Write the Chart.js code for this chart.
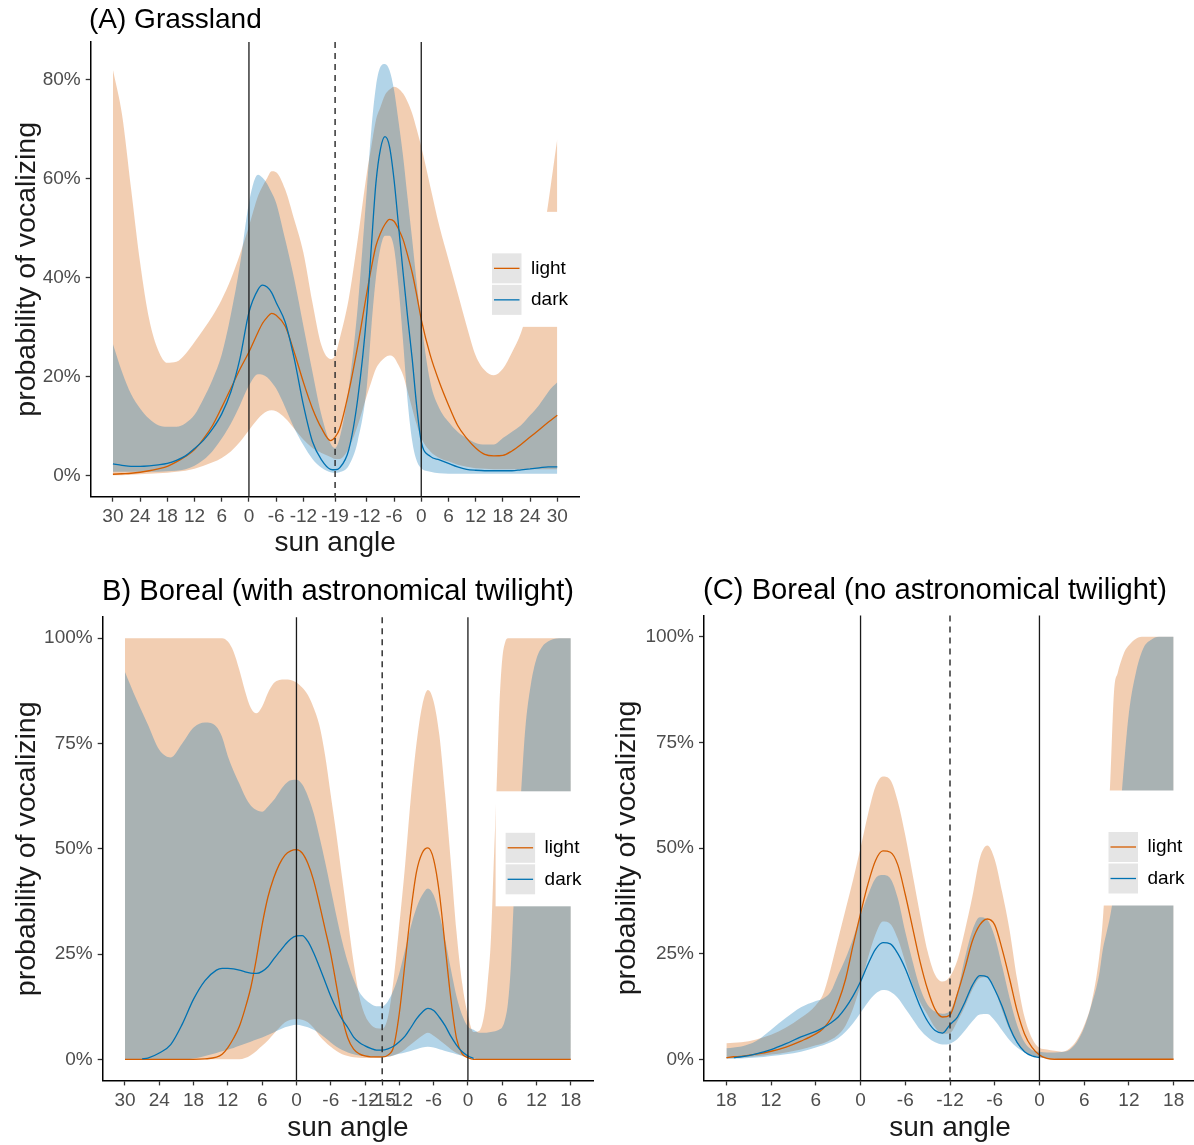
<!DOCTYPE html>
<html>
<head>
<meta charset="utf-8">
<script src="https://cdn.jsdelivr.net/npm/chart.js@4.4.1/dist/chart.umd.min.js"></script>
<style>
  html, body { margin: 0; padding: 0; background: #fff; overflow: hidden; }
  #page { position: relative; width: 1194px; height: 1145px; overflow: hidden;
          font-family: "Liberation Sans", Arial, sans-serif; }
  .panel { position: absolute; }
  .panel-title { position: absolute; color: #000; white-space: nowrap; }
</style>
</head>
<body>
<div id="page">
  <div class="panel" style="left:0;top:0;width:597px;height:566px"><canvas id="grassland"></canvas></div>
  <div class="panel" style="left:0;top:570px;width:597px;height:575px"><canvas id="borealAstro"></canvas></div>
  <div class="panel" style="left:600px;top:570px;width:600px;height:575px"><canvas id="borealNoAstro"></canvas></div>
  <div class="panel-title" style="left:89px;top:5px;font-size:28px;line-height:28px">(A) Grassland</div>
  <div class="panel-title" style="left:102px;top:576.3px;font-size:29.2px;line-height:29.2px">B) Boreal (with astronomical twilight)</div>
  <div class="panel-title" style="left:703px;top:575.3px;font-size:29.2px;line-height:29.2px">(C) Boreal (no astronomical twilight)</div>
</div>
<script>
// x positions run along the sun's path: evening descent, night low point, morning rise
// values are probability of vocalizing, in percent

// ---- (A) Grassland ----
const A_X = [0,2,4,6,8,10,12,14,16,18,20,22,24,26,28,30,32,33,34,35,36,38,40,42,44,46,48,49,50,52,54,56,57,58,59,60,61,62,63,64,65,66,67,68,70,72,74,76,78,80,82,84,86,88,90,92,94,96,97,98];
const A_LIGHT_FIT = [0.3,0.4,0.5,0.7,1.0,1.4,1.9,2.8,3.9,5.3,7.5,10.2,13.8,17.6,21.5,25,29,30.8,32,32.8,32.4,30.2,24.9,18.9,13.6,9.6,7.1,
  7.8,9.5,16.9,26.3,37,42,46.4,49,50.8,51.8,51.4,49.8,47.7,44.5,41,36.5,31.6,
  24.3,18.9,14.3,10.2,7.6,5.6,4.3,4.0,4.1,5.0,6.3,7.8,9.3,10.8,11.5,12.2];
const A_LIGHT_LO = [0.1,0.1,0.2,0.3,0.4,0.5,0.6,0.8,1.0,1.4,2.0,2.7,3.6,4.9,6.8,9.2,11.5,12.4,13.0,13.2,13.0,11.6,9.5,7.3,5.6,4.6,3.8,
  3.4,3.4,5.5,10.2,16.2,19,21.6,23,23.9,24.3,23.9,22.3,20.3,17,13.6,10.3,7.6,
  4.9,3.6,2.9,2.2,1.8,1.5,1.4,1.3,1.3,1.3,1.3,1.3,1.3,1.3,1.3,1.3];
const A_LIGHT_UP = [82,73,58,43,31.6,25.3,22.8,23,24.6,27,29.6,32.3,35.6,39.7,44.7,50.4,56.5,58.5,60.1,61.5,61.3,57.8,51.7,45.1,35,26.3,23.6,
  24.3,27.6,35.7,47.8,61.1,66.5,71.8,74.5,76.9,78,78.6,78.2,77.2,75.5,73.2,70,66.5,
  58.4,50.4,43.7,37,30.3,24.3,21.3,20.3,21.6,24.9,28.9,35,43,55,61.5,68];
const A_DARK_FIT = [2.4,2.1,1.9,1.9,2.0,2.2,2.5,3.1,4.0,5.5,7.2,9.5,12.5,16.9,23.6,33,37.6,38.5,38.1,37,35,31,23.6,14.3,6.9,3.2,1.3,
  1.2,1.6,5.2,15.6,33,46.4,59.1,66,68.5,66.5,59.8,50.4,41,32,23.6,14,6.9,
  3.9,3.2,2.5,1.8,1.3,1.1,1.0,1.0,1.0,1.0,1.2,1.4,1.6,1.8,1.8,1.8];
const A_DARK_LO = [0.8,0.8,0.8,0.8,0.8,0.8,0.9,1.0,1.3,2.0,3.2,5.0,7.5,10.5,14.2,18.2,20.5,20.4,19.9,18.9,17.6,13.8,9.6,6.2,3.4,1.6,0.7,
  0.6,0.7,2,7,18,30,40,46,48.5,48.5,46,38,27,15,7,3,1.5,
  0.8,0.5,0.4,0.4,0.4,0.4,0.4,0.4,0.4,0.4,0.4,0.4,0.4,0.4,0.4,0.4];
const A_DARK_UP = [26.6,21,16.5,13.6,11.5,10.2,9.9,9.9,10.6,12.3,15.6,19.5,24.5,32.5,42.5,55.1,60.8,60.2,59,57.2,55.1,47.7,39.7,30.3,21,12.2,6.5,
  5.6,7.6,17.6,34.3,57.8,70,78.6,82.6,83.2,81.9,77.9,71.5,64.5,56,47.7,39,31,
  18.9,13.6,10.9,8.9,7.6,6.6,6.3,6.3,7.6,8.9,10.2,12.2,14.3,16.9,18,18.9];
const A_X_TICKS = [0,6,12,18,24,30,36,42,49,56,62,68,74,80,86,92,98];
const A_X_LABELS = ['30','24','18','12','6','0','-6','-12','-19','-12','-6','0','6','12','18','24','30'];
const A_Y_TICKS = [0,20,40,60,80];
const A_SUN_ZERO = [30,68];
const A_NADIR = [49];

// ---- (B) Boreal, with astronomical twilight ----
const B_X = [0,2,3,4,6,8,10,12,14,16,17,18,19,20,21,22,23,24,25,26,27,28,29,30,31,32,33,34,35,36,37,38,39,40,41,42,43,44,45,46,47,48,49,50,51,52,53,54,55,56,57,58,59,60,61,62,63,63.5,64,64.5,65,65.5,66,66.5,67,67.5,68,68.5,69,70,71,72,73,74,75,76,78];
const B_LIGHT_FIT = [0,0,0,0,0,0,0,0,0.1,0.5,
  1.2,2.8,5,7.8,12,17,24,32,38.5,43,46.3,48.5,49.5,49.8,49,46.5,42.5,37,31,25,17.5,10,5,2.4,1.3,0.8,0.6,0.6,0.6,1.0,
  3,11,23,35,44.5,49,50.2,47.5,39.5,27,14.5,5,1.3,0.4,0,0,0,
  0,0,0,0,0,0,0,0,0,0,0,0, 0,0,0,0,0,0,0,0];
const B_LIGHT_LO = [0,0,0,0,0,0,0,0,0,0,
  0,0,0,0,0.3,1.0,2.0,3.2,4.5,6.0,7.5,8.8,9.4,9.6,9.4,8.8,7.5,5.6,4.2,3.0,2.0,1.2,0.8,0.5,0.4,0.3,0.3,0.3,0.4,0.6,
  1.0,1.5,2.4,3.5,4.6,5.6,6.3,5.6,4.6,3.5,2.4,1.5,0.9,0.5,0.2,0,0,
  0,0,0,0,0,0,0,0,0,0,0,0, 0,0,0,0,0,0,0,0];
const B_LIGHT_UP = [100,100,100,100,100,100,100,100,100,100,
  100,99.2,96.8,92.5,87.5,83.5,82.2,83.8,87,89.3,90.1,90.2,90.1,89.5,88.3,86.5,83.5,79.4,72.3,62.8,53.3,43,33,23,15,10.5,8.3,7.4,7.3,10,
  19,32,46,62,75,84,87.7,85,77,63,47,30.3,18,10.5,6.5,6.8,12,
  19,28,46,64,84,95,99,100,100,100,100,100, 100,100,100,100,100,100,100,100];
const B_DARK_FIT = [null,null,0.1,0.3,1.5,3.5,8.3,14.3,18.7,21.2,
  21.6,21.6,21.5,21.2,20.8,20.5,20.4,20.9,22,23.8,25.5,27.2,28.6,29.3,29.4,28,25.3,22,18.5,15,12,9.5,7.5,5.3,4.0,3.2,2.6,2.2,2.2,2.5,
  3.1,4.2,5.5,7.5,9.6,11.2,12.1,11.6,10,8,5.5,3.4,1.8,0.8,0.2,null,null,
  null,null,null,null,null,null,null,null,null,null,null,null, null,null,null,null,null,null,null,null];
const B_DARK_LO = [0,0,0,0,0,0,0,0.2,0.8,1.5,
  1.9,2.3,2.7,3.2,3.7,4.2,4.7,5.2,5.8,6.4,7.0,7.6,8.0,8.2,8.0,7.6,7.0,6.2,5.1,4.0,3.0,2.2,1.6,1.2,0.9,0.7,0.6,0.5,0.5,0.6,
  0.9,1.3,1.6,2.0,2.4,2.8,3.0,2.8,2.4,2.0,1.6,1.2,0.8,0.5,0.2,0,0,
  0,0,0,0,0,0,0,0,0,0,0,0, 0,0,0,0,0,0,0,0];
const B_DARK_UP = [92,85.5,82.5,79.5,73.5,71.7,75,78.8,80,79,
  76.5,72,68.5,65.5,62.5,60.3,59.2,58.8,60,61.5,63.5,65.3,66.3,66.4,65.3,62.5,58.5,53,47,40.5,34,28,23,19,16,14.3,13.2,12.6,12.6,13.8,
  16.5,20.5,26,31.5,36,39,40.6,39,34.5,28.5,21.5,15,10.5,7.8,7,6.3,6.3,
  6.4,6.5,6.6,6.8,7.1,7.6,9.5,13.4,22,37,48,57, 78,89,95.2,98,99.2,99.8,100,100];
const B_X_TICKS = [0,6,12,18,24,30,36,42,45,48,54,60,66,72,78];
const B_X_LABELS = ['30','24','18','12','6','0','-6','-12','-15','-12','-6','0','6','12','18'];
const B_SUN_ZERO = [30,60];
const B_NADIR = [45];

// ---- (C) Boreal, no astronomical twilight ----
const C_X = [0,1,2,4,6,8,10,12,13,14,15,16,17,18,19,20,21,22,23,24,25,26,27,28,29,30,31,32,33,34,35,36,37,38,39,40,41,42,43,44,45,46,47,48,49,50,50.5,51,51.5,52,52.5,53,53.5,54,55,56,57,58,59,60];
const C_LIGHT_FIT = [0.4,0.6,0.7,1.2,1.9,2.9,4.3,6.0,
  7.3,9.6,13.5,19,27,34.5,41.5,47,49.3,49,46,39,31,23,16.5,11.8,10,10.5,15.5,21.5,28,31.8,33.2,31.8,26,19,11.5,6,2.8,1.0,0.2,0,0,0,0,0,0,0,
  0,0,0,0,0,0,0,0, 0,0,0,0,0,0];
const C_LIGHT_LO = [0.2,0.3,0.4,0.7,1.1,1.6,2.3,3.3,
  3.8,4.6,5.8,8,12,17.5,24,29.5,32.6,32,28.5,23,17.5,13.5,10.5,7.5,6,6.2,9,12.5,16.5,19.2,19.4,16.5,11.5,7,3.8,1.9,1.0,0.5,0.2,0.1,0,0,0,0,0,0,
  0,0,0,0,0,0,0,0, 0,0,0,0,0,0];
const C_LIGHT_UP = [3.8,3.9,4.0,4.7,5.8,7.5,9.8,12.8,
  15.5,21.5,28.5,35.5,42.5,50,58,64.5,66.9,66.1,61,53,43.6,34.1,25.5,20,18.4,19.6,23.5,30.5,38.5,47.6,50.6,47.3,39.5,30.5,19,10,5,2.7,2.3,2.0,1.8,2.5,4.5,8,13.5,24,
  33,48,66,87,91.5,94.5,96.8,98, 99.6,100,100,100,100,100];
const C_DARK_FIT = [null,0.4,0.6,1.3,2.3,3.7,5.3,6.6,
  7.5,8.6,10,12.2,15,18.4,22.5,26,27.6,27.3,25,21.5,17,12.5,9,6.8,6.2,8.2,10,13.5,17.5,19.8,19.5,16.5,12.5,7.6,4,1.8,0.8,0.4,null,null,null,null,null,null,null,null,
  null,null,null,null,null,null,null,null, null,null,null,null,null,null];
const C_DARK_LO = [0.1,0.15,0.2,0.4,0.8,1.2,1.8,2.8,
  3.3,4.0,5.0,6.5,8.5,11,13.5,15.5,16.4,16,14.5,12,9.5,7,5.2,4,3.5,3.7,4.8,6.8,9,10.6,10.7,9.2,6.8,4.5,2.8,1.6,0.9,0.5,0.2,0.1,0,0,0,0,0,0,
  0,0,0,0,0,0,0,0, 0,0,0,0,0,0];
const C_DARK_UP = [2.6,2.8,3.0,4.3,7,9.8,12.3,13.8,
  14.4,16,20,23.9,28.6,34.1,38.9,42.8,43.6,42.8,38.1,30.2,23.1,16.8,12.9,11.3,10.8,11.5,16,24,30.5,33.6,33,29,22,14.5,8.1,4,2.2,1.8,1.6,1.6,1.7,2.2,4,7.5,13,20,
  26,30,34,40,50,62,73,82, 92,97.5,99.3,100,100,100];
const C_X_TICKS = [0,6,12,18,24,30,36,42,48,54,60];
const C_X_LABELS = ['18','12','6','0','-6','-12','-6','0','6','12','18'];
const C_SUN_ZERO = [18,42];
const C_NADIR = [30];

const BOREAL_Y_TICKS = [0,25,50,75,100];
const SERIES_NAMES = ['light', 'dark'];

const FONT = '"Liberation Sans", Arial, sans-serif';
const LIGHT_LINE = '#D55E00';
const DARK_LINE = '#0072B2';
const LIGHT_FILL = 'rgba(213,94,0,0.3)';
const DARK_FILL = 'rgba(0,114,178,0.3)';
const TICK_GREY = '#4d4d4d';

Chart.defaults.font.family = FONT;
Chart.defaults.animation = false;

function pts(xs, ys) {
  return xs.map((x, i) => ({ x: x, y: ys[i] }));
}

// vertical guides at sunset/sunrise and the night low point, plus the key drawn over the panel
function decor(sunZero, nadir) {
  return {
    id: 'decor',
    afterDatasetsDraw(chart) {
      const ctx = chart.ctx;
      const a = chart.chartArea;
      const xs = chart.scales.x;
      ctx.save();
      ctx.strokeStyle = '#1a1a1a';
      ctx.lineWidth = 1.3;
      sunZero.forEach(v => {
        const px = xs.getPixelForValue(v);
        ctx.beginPath(); ctx.moveTo(px, a.top); ctx.lineTo(px, a.bottom); ctx.stroke();
      });
      ctx.strokeStyle = '#333';
      ctx.lineWidth = 1.5;
      ctx.setLineDash([6, 5]);
      nadir.forEach(v => {
        const px = xs.getPixelForValue(v);
        ctx.beginPath(); ctx.moveTo(px, a.top); ctx.lineTo(px, a.bottom); ctx.stroke();
      });
      ctx.setLineDash([]);

      const boxL = a.right - 97.5;
      const boxT = (a.top + a.bottom) / 2 - 57.5;
      ctx.fillStyle = '#fff';
      ctx.fillRect(boxL, boxT, chart.width - boxL, 115);
      const colors = [LIGHT_LINE, DARK_LINE];
      ctx.font = '19px ' + FONT;
      ctx.textBaseline = 'middle';
      ctx.textAlign = 'left';
      SERIES_NAMES.forEach((name, i) => {
        const ky = boxT + 41.5 + i * 31.5;
        ctx.fillStyle = '#e5e5e5';
        ctx.fillRect(boxL + 10, ky, 29.5, 30);
        ctx.strokeStyle = colors[i];
        ctx.lineWidth = 1.3;
        ctx.beginPath(); ctx.moveTo(boxL + 12, ky + 15); ctx.lineTo(boxL + 37.5, ky + 15); ctx.stroke();
        ctx.fillStyle = '#000';
        ctx.fillText(name, boxL + 49, ky + 15);
      });
      ctx.restore();
    }
  };
}

function makePanel(id, p) {
  const line = { pointRadius: 0, pointHoverRadius: 0, cubicInterpolationMode: 'monotone', spanGaps: false };
  const band = Object.assign({}, line, { borderWidth: 0, borderColor: 'rgba(0,0,0,0)' });
  return new Chart(document.getElementById(id), {
    type: 'line',
    data: {
      datasets: [
        Object.assign({}, line, { label: 'dark', data: pts(p.xs, p.darkFit), borderColor: DARK_LINE, borderWidth: 1.3, fill: false }),
        Object.assign({}, line, { label: 'light', data: pts(p.xs, p.lightFit), borderColor: LIGHT_LINE, borderWidth: 1.3, fill: false }),
        Object.assign({}, band, { label: 'dark upper', data: pts(p.xs, p.darkUp), backgroundColor: DARK_FILL, fill: '+1' }),
        Object.assign({}, band, { label: 'dark lower', data: pts(p.xs, p.darkLo), fill: false }),
        Object.assign({}, band, { label: 'light upper', data: pts(p.xs, p.lightUp), backgroundColor: LIGHT_FILL, fill: '+1' }),
        Object.assign({}, band, { label: 'light lower', data: pts(p.xs, p.lightLo), fill: false })
      ]
    },
    options: {
      responsive: true,
      maintainAspectRatio: false,
      events: [],
      layout: { padding: p.padding },
      plugins: { legend: { display: false }, tooltip: { enabled: false } },
      scales: {
        x: {
          type: 'linear', min: p.xMin, max: p.xMax,
          afterBuildTicks: s => { s.ticks = p.xTicks.map(v => ({ value: v })); },
          afterFit: s => { s.height = p.xHeight; },
          ticks: {
            autoSkip: false, maxRotation: 0, minRotation: 0, padding: 4,
            color: TICK_GREY, font: { size: 19 },
            callback: (v, i) => p.xLabels[i]
          },
          grid: { display: true, drawOnChartArea: false, drawTicks: true, tickLength: 5, tickColor: '#333', tickWidth: 1.3 },
          border: { display: true, color: '#000', width: 1.5 },
          title: { display: true, text: 'sun angle', color: '#1a1a1a', font: { size: 28 }, padding: { top: 0, bottom: p.xTitlePad } }
        },
        y: {
          min: p.yMin, max: p.yMax,
          afterBuildTicks: s => { s.ticks = p.yTicks.map(v => ({ value: v })); },
          afterFit: s => { s.width = p.yWidth; },
          ticks: { padding: 5, color: TICK_GREY, font: { size: 19 }, callback: v => v + '%' },
          grid: { display: true, drawOnChartArea: false, drawTicks: true, tickLength: 5, tickColor: '#333', tickWidth: 1.3 },
          border: { display: true, color: '#000', width: 1.5 },
          title: { display: true, text: 'probability of vocalizing', color: '#1a1a1a', font: { size: 28.5 }, padding: { top: 10.5, bottom: 0 } }
        }
      }
    },
    plugins: [decor(p.sunZero, p.nadir)]
  });
}

makePanel('grassland', {
  xs: A_X, lightFit: A_LIGHT_FIT, lightLo: A_LIGHT_LO, lightUp: A_LIGHT_UP,
  darkFit: A_DARK_FIT, darkLo: A_DARK_LO, darkUp: A_DARK_UP,
  xMin: -4.9, xMax: 102.9, yMin: -4.24, yMax: 87.62,
  xTicks: A_X_TICKS, xLabels: A_X_LABELS, yTicks: A_Y_TICKS,
  sunZero: A_SUN_ZERO, nadir: A_NADIR,
  padding: { top: 42, right: 17.5, bottom: 0, left: 0 }, yWidth: 90.7, xHeight: 69.3, xTitlePad: 5.5
});

makePanel('borealAstro', {
  xs: B_X, lightFit: B_LIGHT_FIT, lightLo: B_LIGHT_LO, lightUp: B_LIGHT_UP,
  darkFit: B_DARK_FIT, darkLo: B_DARK_LO, darkUp: B_DARK_UP,
  xMin: -3.9, xMax: 81.9, yMin: -5, yMax: 105,
  xTicks: B_X_TICKS, xLabels: B_X_LABELS, yTicks: BOREAL_Y_TICKS,
  sunZero: B_SUN_ZERO, nadir: B_NADIR,
  padding: { top: 47.2, right: 3.9, bottom: 0, left: 0 }, yWidth: 102.7, xHeight: 64.6, xTitlePad: 0
});

makePanel('borealNoAstro', {
  xs: C_X, lightFit: C_LIGHT_FIT, lightLo: C_LIGHT_LO, lightUp: C_LIGHT_UP,
  darkFit: C_DARK_FIT, darkLo: C_DARK_LO, darkUp: C_DARK_UP,
  xMin: -3, xMax: 63, yMin: -5, yMax: 105,
  xTicks: C_X_TICKS, xLabels: C_X_LABELS, yTicks: BOREAL_Y_TICKS,
  sunZero: C_SUN_ZERO, nadir: C_NADIR,
  padding: { top: 45.6, right: 4, bottom: 0, left: 0 }, yWidth: 104, xHeight: 64.6, xTitlePad: 0
});
</script>
</body>
</html>
